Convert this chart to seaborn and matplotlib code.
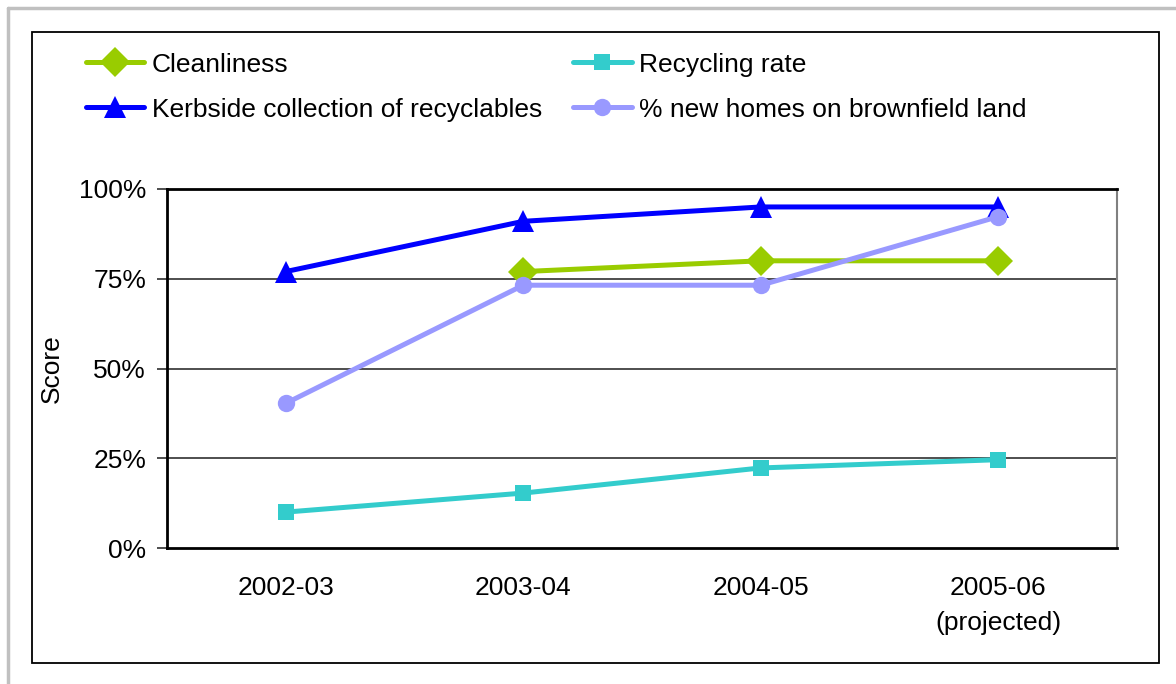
import numpy as np
import pandas as pd
import matplotlib
matplotlib.use("Agg")
import matplotlib.pyplot as plt
import seaborn as sns
from matplotlib.patches import Rectangle
from matplotlib.lines import Line2D
from matplotlib.ticker import FuncFormatter

categories = ["2002-03", "2003-04", "2004-05", "2005-06\n(projected)"]
cleanliness = [np.nan, 77, 80, 80]
recycling = [10, 15.3, 22.3, 24.6]
kerbside = [77, 91, 95, 95]
brownfield = [40.3, 73.2, 73.2, 92.3]

series_names = ["Cleanliness", "Kerbside collection of recyclables",
                "Recycling rate", "% new homes on brownfield land"]
series_values = [cleanliness, kerbside, recycling, brownfield]
colors = ["#99CC00", "#0000FF", "#33CCCC", "#9999FF"]
markers = ["D", "^", "s", "o"]
msizes = [15, 16, 12, 12.5]

sns.set_theme(style="white")
plt.rcParams["font.family"] = ["Liberation Sans", "DejaVu Sans"]
plt.rcParams["text.color"] = "black"
plt.rcParams["axes.labelcolor"] = "black"
plt.rcParams["xtick.color"] = "black"
plt.rcParams["ytick.color"] = "black"

FS = 19

fig = plt.figure(figsize=(11.76, 6.84), dpi=100)
fig.patch.set_facecolor("white")

# outer frame decorations
fig.add_artist(Line2D([8/1176, 8/1176], [0, 1 - 8/684], transform=fig.transFigure,
                      color="#C0C0C0", lw=2.5))
fig.add_artist(Line2D([8/1176, 1], [1 - 8/684, 1 - 8/684], transform=fig.transFigure,
                      color="#C0C0C0", lw=2.5))
fig.add_artist(Rectangle((32/1176, 1 - 663/684), (1159 - 32)/1176, (663 - 32)/684,
                         transform=fig.transFigure, fill=False, edgecolor="black", lw=1.3))

ax = fig.add_axes([167/1176, 1 - 548/684, (1117 - 167)/1176, (548 - 189)/684])

rows = []
for name, vals in zip(series_names, series_values):
    for i, v in enumerate(vals):
        rows.append({"series": name, "x": i, "value": v})
df = pd.DataFrame(rows)

handles = []
for name, col, mk, ms in zip(series_names, colors, markers, msizes):
    sub = df[df["series"] == name].dropna()
    sns.lineplot(data=sub, x="x", y="value", ax=ax, color=col, lw=3.6,
                 marker=mk, markersize=ms, markeredgewidth=0, legend=False)
    handles.append(Line2D([], [], color=col, lw=3.6, marker=mk, markersize=ms,
                          markeredgewidth=0))

ax.set_xlim(-0.5, 3.5)
ax.set_ylim(0, 100)
ax.set_xticks(range(len(categories)))
ax.set_xticklabels(categories, fontsize=FS, linespacing=1.6, va="top")
ax.set_yticks([0, 25, 50, 75, 100])
ax.yaxis.set_major_formatter(FuncFormatter(lambda v, p: f"{int(v)}%"))
ax.tick_params(axis="y", labelsize=FS, length=7, width=1.3, color="#404040",
               direction="out", pad=8, left=True)
ax.tick_params(axis="x", length=0, pad=20)
ax.set_xlabel("")
ax.set_ylabel("Score", fontsize=FS, labelpad=11)

for y in [25, 50, 75]:
    ax.axhline(y, color="#404040", lw=1.3, zorder=0)

for s in ["top", "left", "bottom"]:
    ax.spines[s].set_color("black")
    ax.spines[s].set_linewidth(2)
ax.spines["right"].set_color("#808080")
ax.spines["right"].set_linewidth(1.5)

fig.legend(handles, series_names, ncol=2, loc="upper left",
           bbox_to_anchor=(75/1176, 1 - 42/684), frameon=False, fontsize=FS,
           handlelength=2.2, handletextpad=0.3, columnspacing=1.2,
           labelspacing=0.8, borderaxespad=0)

fig.savefig("out.png", dpi=100, facecolor="white")
